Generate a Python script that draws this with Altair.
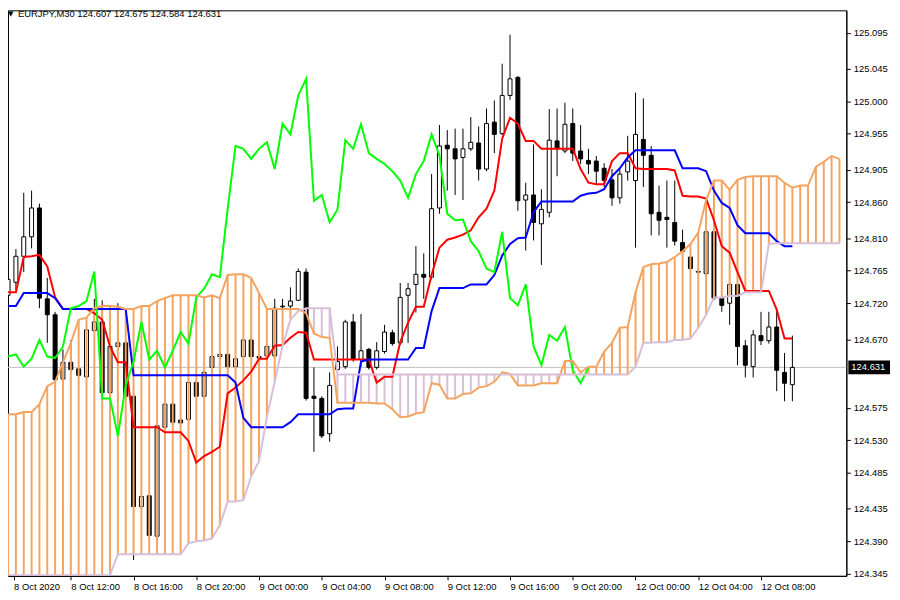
import altair as alt
import pandas as pd

# ---- candle data (M30 bars, 8 Oct 08:00 -> 12 Oct 10:00) ----
opens = [124.731, 124.749, 124.785, 124.812, 124.852, 124.726, 124.704, 124.615, 124.638, 124.629,
         124.618, 124.682, 124.694, 124.596, 124.660, 124.665, 124.591, 124.438, 124.453, 124.397,
         124.548, 124.580, 124.558, 124.559, 124.610, 124.591, 124.631, 124.646, 124.649, 124.632,
         124.646, 124.669, 124.646, 124.647, 124.647, 124.715, 124.716, 124.724, 124.763, 124.591,
         124.588, 124.539, 124.628, 124.632, 124.694, 124.642, 124.656, 124.631, 124.653, 124.679,
         124.665, 124.731, 124.746, 124.760, 124.756, 124.852, 124.939, 124.934, 124.922, 124.934,
         124.942, 124.906, 124.971, 124.955, 125.008, 125.033, 124.863, 124.870, 124.830, 124.846,
         124.945, 124.931, 124.969, 124.931, 124.918, 124.917, 124.907, 124.891, 124.866, 124.902,
         124.890, 124.947, 124.925, 124.846, 124.839, 124.832, 124.804, 124.784, 124.764, 124.761,
         124.819, 124.727, 124.720, 124.746, 124.661, 124.632, 124.675, 124.668, 124.687, 124.624,
         124.607]
highs = [124.755, 124.795, 124.873, 124.876, 124.858, 124.755, 124.708, 124.656, 124.669, 124.634,
         124.686, 124.726, 124.724, 124.662, 124.720, 124.668, 124.592, 124.455, 124.456, 124.552,
         124.582, 124.582, 124.561, 124.613, 124.613, 124.627, 124.649, 124.651, 124.651, 124.646,
         124.672, 124.672, 124.649, 124.662, 124.726, 124.726, 124.742, 124.768, 124.768, 124.631,
         124.591, 124.624, 124.660, 124.697, 124.705, 124.705, 124.658, 124.666, 124.690, 124.683,
         124.748, 124.748, 124.799, 124.789, 124.899, 124.967, 124.960, 124.962, 124.962, 124.978,
         124.965, 124.990, 125.001, 125.052, 125.092, 125.035, 124.887, 124.940, 124.878, 124.989,
         124.990, 124.998, 124.990, 124.967, 124.934, 124.924, 124.914, 124.906, 124.907, 124.952,
         125.012, 125.004, 124.938, 124.883, 124.890, 124.890, 124.822, 124.786, 124.768, 124.822,
         124.822, 124.730, 124.749, 124.749, 124.669, 124.683, 124.708, 124.708, 124.713, 124.651,
         124.675]
lows = [124.697, 124.738, 124.763, 124.796, 124.713, 124.665, 124.612, 124.613, 124.625, 124.617,
        124.617, 124.680, 124.595, 124.594, 124.657, 124.587, 124.364, 124.435, 124.394, 124.394,
        124.546, 124.551, 124.551, 124.556, 124.588, 124.588, 124.628, 124.643, 124.629, 124.629,
        124.643, 124.643, 124.642, 124.644, 124.644, 124.713, 124.713, 124.723, 124.585, 124.514,
        124.533, 124.528, 124.605, 124.629, 124.639, 124.632, 124.628, 124.628, 124.650, 124.661,
        124.662, 124.665, 124.707, 124.726, 124.753, 124.844, 124.876, 124.870, 124.863, 124.931,
        124.890, 124.903, 124.928, 124.953, 125.002, 124.848, 124.793, 124.807, 124.773, 124.839,
        124.896, 124.928, 124.917, 124.913, 124.899, 124.885, 124.881, 124.855, 124.858, 124.890,
        124.797, 124.881, 124.814, 124.814, 124.797, 124.800, 124.785, 124.766, 124.760, 124.759,
        124.724, 124.708, 124.690, 124.634, 124.617, 124.617, 124.662, 124.664, 124.598, 124.584,
        124.584]
closes = [124.753, 124.785, 124.812, 124.852, 124.727, 124.704, 124.614, 124.638, 124.628, 124.620,
          124.683, 124.694, 124.596, 124.660, 124.665, 124.591, 124.438, 124.452, 124.398, 124.550,
          124.580, 124.555, 124.554, 124.610, 124.591, 124.624, 124.646, 124.649, 124.632, 124.643,
          124.669, 124.646, 124.644, 124.660, 124.713, 124.716, 124.723, 124.764, 124.588, 124.588,
          124.536, 124.606, 124.639, 124.694, 124.642, 124.654, 124.631, 124.654, 124.680, 124.664,
          124.728, 124.740, 124.760, 124.756, 124.851, 124.938, 124.934, 124.920, 124.934, 124.943,
          124.906, 124.969, 124.954, 125.008, 125.031, 124.862, 124.870, 124.832, 124.850, 124.946,
          124.934, 124.968, 124.928, 124.920, 124.913, 124.903, 124.890, 124.866, 124.899, 124.917,
          124.954, 124.925, 124.844, 124.835, 124.836, 124.806, 124.792, 124.768, 124.763, 124.819,
          124.727, 124.717, 124.746, 124.660, 124.634, 124.676, 124.668, 124.687, 124.627, 124.609,
          124.631]

# ---- Ichimoku lines ----
tenkan = [124.735, 124.735, 124.784, 124.785, 124.787, 124.771, 124.728, 124.712, 124.712, 124.712,
          124.712, 124.706, 124.697, 124.660, 124.638, 124.638, 124.548, 124.548, 124.548, 124.548,
          124.541, 124.541, 124.541, 124.529, 124.499, 124.508, 124.514, 124.521, 124.595, 124.603,
          124.613, 124.625, 124.643, 124.643, 124.661, 124.662, 124.672, 124.680, 124.679, 124.642,
          124.642, 124.642, 124.642, 124.642, 124.642, 124.642, 124.642, 124.610, 124.618, 124.618,
          124.666, 124.693, 124.715, 124.715, 124.759, 124.797, 124.808, 124.811, 124.815, 124.821,
          124.839, 124.851, 124.876, 124.948, 124.977, 124.969, 124.945, 124.945, 124.934, 124.934,
          124.934, 124.934, 124.934, 124.906, 124.887, 124.885, 124.885, 124.917, 124.928, 124.928,
          124.907, 124.906, 124.906, 124.906, 124.906, 124.904, 124.869, 124.868, 124.868, 124.865,
          124.835, 124.799, 124.790, 124.763, 124.737, 124.737, 124.737, 124.737, 124.711, 124.671,
          124.671]
kijun = [124.716, 124.716, 124.734, 124.734, 124.734, 124.734, 124.727, 124.712, 124.712, 124.712,
         124.712, 124.712, 124.712, 124.712, 124.712, 124.712, 124.620, 124.620, 124.620, 124.620,
         124.620, 124.620, 124.620, 124.620, 124.620, 124.620, 124.620, 124.620, 124.620, 124.610,
         124.561, 124.548, 124.548, 124.548, 124.548, 124.548, 124.555, 124.566, 124.566, 124.566,
         124.566, 124.566, 124.573, 124.574, 124.574, 124.639, 124.642, 124.642, 124.642, 124.642,
         124.642, 124.642, 124.658, 124.658, 124.709, 124.741, 124.741, 124.741, 124.741, 124.746,
         124.746, 124.746, 124.759, 124.786, 124.802, 124.810, 124.811, 124.846, 124.861, 124.861,
         124.861, 124.861, 124.861, 124.869, 124.872, 124.873, 124.878, 124.896, 124.907, 124.922,
         124.932, 124.932, 124.932, 124.932, 124.932, 124.932, 124.907, 124.907, 124.907, 124.903,
         124.876, 124.859, 124.852, 124.828, 124.817, 124.817, 124.817, 124.817, 124.806, 124.799,
         124.799]
span_a = [124.566, 124.566, 124.569, 124.569, 124.580, 124.605, 124.611, 124.638, 124.665, 124.697,
          124.700, 124.713, 124.716, 124.716, 124.715, 124.712, 124.712, 124.716, 124.716, 124.723,
          124.727, 124.731, 124.731, 124.731, 124.731, 124.728, 124.731, 124.727, 124.759, 124.760,
          124.760, 124.755, 124.734, 124.712, 124.712, 124.712, 124.712, 124.712, 124.706, 124.678,
          124.673, 124.672, 124.582, 124.582, 124.582, 124.582, 124.582, 124.581, 124.581, 124.573,
          124.562, 124.563, 124.567, 124.569, 124.609, 124.607, 124.588, 124.588, 124.594, 124.595,
          124.603, 124.605, 124.611, 124.624, 124.622, 124.606, 124.606, 124.606, 124.609, 124.609,
          124.609, 124.640, 124.640, 124.624, 124.632, 124.632, 124.653, 124.665, 124.686, 124.687,
          124.735, 124.770, 124.774, 124.775, 124.777, 124.784, 124.792, 124.802, 124.818, 124.863,
          124.890, 124.890, 124.877, 124.891, 124.895, 124.896, 124.896, 124.896, 124.896, 124.887,
          124.880, 124.883, 124.883, 124.909, 124.916, 124.924, 124.920]
span_b = [124.343, 124.343, 124.343, 124.343, 124.343, 124.343, 124.343, 124.343, 124.343, 124.343,
          124.343, 124.343, 124.343, 124.343, 124.372, 124.372, 124.372, 124.372, 124.372, 124.372,
          124.372, 124.372, 124.372, 124.387, 124.390, 124.391, 124.394, 124.412, 124.445, 124.445,
          124.447, 124.480, 124.501, 124.562, 124.611, 124.661, 124.697, 124.709, 124.713, 124.713,
          124.713, 124.713, 124.621, 124.621, 124.621, 124.621, 124.621, 124.621, 124.621, 124.621,
          124.621, 124.621, 124.621, 124.621, 124.621, 124.621, 124.621, 124.621, 124.621, 124.621,
          124.621, 124.621, 124.621, 124.621, 124.621, 124.621, 124.621, 124.621, 124.621, 124.621,
          124.621, 124.621, 124.621, 124.621, 124.621, 124.621, 124.621, 124.621, 124.621, 124.621,
          124.632, 124.665, 124.665, 124.666, 124.666, 124.669, 124.669, 124.671, 124.686, 124.704,
          124.728, 124.728, 124.730, 124.730, 124.735, 124.735, 124.735, 124.802, 124.803, 124.803,
          124.803, 124.803, 124.803, 124.803, 124.803, 124.803, 124.803]
chikou = closes[26:]   # lagging span: the closes drawn 26 bars back

x_tick_bars = [0, 8, 16, 24, 32, 40, 48, 56, 64, 72, 80, 88, 96]
x_tick_labels = ["8 Oct 2020", "8 Oct 12:00", "8 Oct 16:00", "8 Oct 20:00", "9 Oct 00:00",
                 "9 Oct 04:00", "9 Oct 08:00", "9 Oct 12:00", "9 Oct 16:00", "9 Oct 20:00",
                 "12 Oct 00:00", "12 Oct 04:00", "12 Oct 08:00"]
# 124.625 sits under the bid-price box and is hidden there, so it is not labelled
y_ticks = [125.095, 125.045, 125.000, 124.955, 124.905, 124.860, 124.810, 124.765, 124.720,
           124.670, 124.575, 124.530, 124.485, 124.435, 124.390, 124.345]
bid = 124.631
symbol = "EURJPY,M30"

# ---- tables ----
n = len(closes)
candles = pd.DataFrame({"i": list(range(n)), "o": opens, "h": highs, "l": lows, "c": closes})
candles["up"] = candles["c"] >= candles["o"]
m = len(span_a)
cloud = pd.DataFrame({"i": list(range(m)), "a": span_a, "b": span_b})
cloud["col"] = ["#F4A460" if a >= b else "#D8BFD8" for a, b in zip(span_a, span_b)]
ten_df = pd.DataFrame({"i": list(range(n)), "v": tenkan})
kij_df = pd.DataFrame({"i": list(range(n)), "v": kijun})
chk_df = pd.DataFrame({"i": list(range(len(chikou))), "v": chikou})
bid_df = pd.DataFrame({"p": [bid], "t": [f"{bid:.3f}"]})

FONT = "Liberation Sans"
x_scale = alt.Scale(domain=[0.625, 106.25], nice=False, zero=False)
y_scale = alt.Scale(domain=[124.342, 125.126], nice=False, zero=False)
label_expr = "[" + ",".join("'%s'" % s for s in x_tick_labels) + "][round(datum.value/8)]"
x_axis = alt.Axis(values=[0.7] + x_tick_bars[1:], labelExpr=label_expr, title=None, grid=False,
                  tickSize=4, labelAlign="left", labelBaseline="top", labelPadding=2,
                  labelFlush=False, labelOverlap=False, domainColor="black", tickColor="black",
                  labelColor="black", labelFont=FONT, labelFontSize=9.5)
y_axis = alt.Axis(orient="right", values=y_ticks, format=".3f", title=None, grid=False,
                  tickSize=4, labelPadding=3, labelOverlap=False, labelFlush=False,
                  domainColor="black", tickColor="black", labelColor="black",
                  labelFont=FONT, labelFontSize=9.5)


def X(f):
    return alt.X(f, type="quantitative", scale=x_scale, axis=x_axis)


def Y(f):
    return alt.Y(f, type="quantitative", scale=y_scale, axis=y_axis)


bid_rule = alt.Chart(bid_df).mark_rule(color="#C0C0C0", strokeWidth=1).encode(y=Y("p"))

wicks = alt.Chart(candles).mark_rule(color="black", strokeWidth=1, clip=True).encode(
    x=X("i"), y=Y("l"), y2=alt.Y2("h"))
bodies_up = alt.Chart(candles[candles["up"]]).mark_bar(
    size=4, fill="white", stroke="black", strokeWidth=1, clip=True).encode(
    x=X("i"), y=Y("o"), y2=alt.Y2("c"))
bodies_dn = alt.Chart(candles[~candles["up"]]).mark_bar(
    size=4, fill="black", stroke="black", strokeWidth=1, clip=True).encode(
    x=X("i"), y=Y("o"), y2=alt.Y2("c"))

hatch = alt.Chart(cloud).mark_rule(strokeWidth=2, clip=True).encode(
    x=X("i"), y=Y("a"), y2=alt.Y2("b"), color=alt.Color("col:N", scale=None))


def line(df, field, color):
    return alt.Chart(df).mark_line(color=color, strokeWidth=2, clip=True).encode(
        x=X("i"), y=Y(field))


ten_line = line(ten_df, "v", "#FF0000")
kij_line = line(kij_df, "v", "#0000FF")
chk_line = line(chk_df, "v", "#00FF00")
a_line = line(cloud, "a", "#F4A460")
b_line = line(cloud, "b", "#D8BFD8")

box = alt.Chart(bid_df).mark_point(
    shape="M-1,-0.3333L1,-0.3333L1,0.3333L-1,0.3333Z", size=1764, filled=True,
    color="black", opacity=1, clip=False).encode(x=alt.value(868), y=Y("p"))
box_text = alt.Chart(bid_df).mark_text(
    align="left", baseline="middle", color="white", font=FONT, fontSize=9.5, clip=False).encode(
    x=alt.value(850), y=Y("p"), text="t:N")

head_df = pd.DataFrame({"t": [f"{symbol}  {opens[-1]:.3f} {highs[-1]:.3f} {lows[-1]:.3f} {closes[-1]:.3f}"],
                        "m": ["\u25bc"]})
head_tri = alt.Chart(head_df).mark_text(
    align="left", baseline="middle", color="black", font="DejaVu Sans", fontSize=7).encode(
    x=alt.value(0), y=alt.value(4), text="m:N")
head_text = alt.Chart(head_df).mark_text(
    align="left", baseline="middle", color="black", font=FONT, fontSize=9.5).encode(
    x=alt.value(10), y=alt.value(4), text="t:N")

chart = alt.layer(
    bid_rule, wicks, bodies_up, bodies_dn, hatch,
    ten_line, kij_line, chk_line, a_line, b_line,
    box, box_text, head_tri, head_text,
).properties(
    width=845, height=570,
    padding={"left": 0, "top": 0, "right": 46, "bottom": 22},
    autosize=alt.AutoSizeParams(type="none"),
    background="white",
).configure_view(stroke="black", strokeWidth=1)

chart.save("out.html", embed_options={"renderer": "svg", "actions": False})
